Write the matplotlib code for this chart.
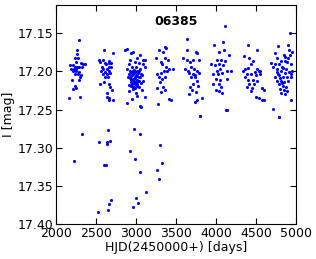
import matplotlib
matplotlib.use("Agg")
import matplotlib.pyplot as plt

# HJD - 2450000 and I magnitude, one list per season
hjd_s1 = [2287, 2267, 2258, 2242, 2275, 2250, 2308, 2342, 2175, 2208, 2233, 2283, 2325, 2358,
          2192, 2225, 2250, 2258, 2217, 2250, 2292, 2242, 2275, 2308, 2300, 2200, 2283, 2233,
          2250, 2217, 2300, 2167, 2329, 2225]
mag_s1 = [17.159, 17.172, 17.177, 17.182, 17.182, 17.188, 17.189, 17.191, 17.192, 17.192,
          17.194, 17.194, 17.194, 17.191, 17.197, 17.197, 17.197, 17.194, 17.199, 17.200,
          17.201, 17.204, 17.204, 17.205, 17.208, 17.211, 17.211, 17.219, 17.222, 17.223,
          17.233, 17.235, 17.282, 17.318]

hjd_s2 = [2600, 2717, 2542, 2583, 2667, 2550, 2608, 2667, 2683, 2625, 2575, 2658, 2683, 2592,
          2633, 2658, 2567, 2617, 2675, 2583, 2642, 2608, 2650, 2550, 2600, 2667, 2675, 2700,
          2642, 2633, 2658, 2708, 2658, 2542, 2650, 2633, 2633, 2675, 2600, 2621, 2687, 2667,
          2650, 2529]
mag_s2 = [17.172, 17.176, 17.185, 17.185, 17.186, 17.188, 17.189, 17.189, 17.189, 17.191,
          17.194, 17.194, 17.194, 17.197, 17.197, 17.199, 17.200, 17.201, 17.202, 17.204,
          17.204, 17.208, 17.207, 17.216, 17.214, 17.216, 17.220, 17.224, 17.229, 17.234,
          17.235, 17.237, 17.238, 17.292, 17.277, 17.293, 17.295, 17.291, 17.323, 17.323,
          17.369, 17.374, 17.381, 17.384]

hjd_s3 = [2863, 2883, 2942, 2958, 3050, 2925, 3008, 3092, 3117, 2908, 2983, 3033, 3092, 2892,
          2946, 3000, 3050, 3108, 2925, 2942, 2958, 2975, 2992, 3008, 3025, 3042, 3058, 2917,
          2933, 2950, 2967, 2983, 3000, 3017, 3033, 3050, 3075, 2925, 2942, 2958, 2975, 2992,
          3008, 3025, 3042, 2933, 2950, 2967, 2983, 3000, 3017, 3058, 2942, 2958, 2975, 2992,
          3008, 3033, 2917, 3083, 2900, 2917, 2967, 3075, 3008, 3117, 2892, 3050, 3067, 2950,
          3000, 2979, 3054, 2925, 2992, 3046, 3004, 3021, 2967, 3125]
mag_s3 = [17.172, 17.171, 17.176, 17.175, 17.179, 17.185, 17.182, 17.185, 17.185, 17.190,
          17.188, 17.189, 17.190, 17.197, 17.194, 17.194, 17.197, 17.194, 17.199, 17.201,
          17.200, 17.198, 17.201, 17.199, 17.202, 17.200, 17.203, 17.204, 17.206, 17.205,
          17.204, 17.207, 17.205, 17.206, 17.208, 17.207, 17.205, 17.209, 17.211, 17.210,
          17.212, 17.209, 17.211, 17.213, 17.212, 17.214, 17.216, 17.215, 17.217, 17.214,
          17.216, 17.215, 17.219, 17.221, 17.220, 17.222, 17.219, 17.221, 17.218, 17.212,
          17.208, 17.226, 17.223, 17.225, 17.232, 17.233, 17.242, 17.246, 17.247, 17.236,
          17.229, 17.275, 17.282, 17.304, 17.315, 17.332, 17.366, 17.372, 17.378, 17.358]

hjd_s4 = [3358, 3375, 3292, 3342, 3250, 3308, 3367, 3400, 3325, 3375, 3417, 3467, 3258, 3308,
          3350, 3383, 3283, 3325, 3367, 3300, 3342, 3358, 3267, 3308, 3408, 3433, 3275, 3296,
          3325, 3267, 3283]
mag_s4 = [17.168, 17.169, 17.172, 17.175, 17.182, 17.188, 17.183, 17.185, 17.190, 17.194,
          17.197, 17.197, 17.203, 17.202, 17.200, 17.199, 17.208, 17.210, 17.208, 17.214,
          17.220, 17.225, 17.222, 17.227, 17.236, 17.237, 17.243, 17.297, 17.320, 17.329,
          17.341]

hjd_s5 = [3633, 3642, 3750, 3767, 3592, 3642, 3717, 3675, 3783, 3617, 3650, 3692, 3725, 3758,
          3667, 3708, 3742, 3783, 3683, 3733, 3758, 3708, 3675, 3775, 3700, 3667, 3750, 3758,
          3733, 3821, 3800, 3800]
mag_s5 = [17.158, 17.172, 17.175, 17.176, 17.182, 17.185, 17.185, 17.188, 17.185, 17.197,
          17.199, 17.194, 17.197, 17.200, 17.202, 17.204, 17.205, 17.202, 17.208, 17.208,
          17.212, 17.216, 17.220, 17.219, 17.224, 17.230, 17.227, 17.237, 17.240, 17.235,
          17.259, 17.259]

hjd_s6 = [4117, 3975, 4083, 4100, 4042, 4167, 4017, 4067, 4117, 3942, 3992, 4033, 4083, 4050,
          4017, 4133, 4183, 3967, 4025, 4075, 4000, 4050, 4142, 4033, 3967, 4067, 4000, 4033,
          4075, 4133, 4129]
mag_s6 = [17.140, 17.166, 17.161, 17.172, 17.175, 17.179, 17.185, 17.185, 17.186, 17.191,
          17.192, 17.190, 17.192, 17.197, 17.199, 17.199, 17.200, 17.204, 17.203, 17.202,
          17.210, 17.211, 17.210, 17.216, 17.217, 17.220, 17.224, 17.226, 17.229, 17.251,
          17.251]

hjd_s7 = [4400, 4508, 4350, 4408, 4467, 4433, 4367, 4400, 4508, 4550, 4342, 4483, 4533, 4383,
          4442, 4500, 4550, 4367, 4400, 4458, 4517, 4417, 4475, 4383, 4450, 4575, 4600, 4442,
          4500, 4533, 4575, 4600]
mag_s7 = [17.165, 17.172, 17.180, 17.183, 17.186, 17.190, 17.197, 17.195, 17.197, 17.199,
          17.200, 17.201, 17.199, 17.204, 17.203, 17.205, 17.204, 17.208, 17.211, 17.211,
          17.212, 17.216, 17.216, 17.221, 17.222, 17.222, 17.224, 17.226, 17.234, 17.235,
          17.237, 17.237]

hjd_s8 = [4925, 4904, 4775, 4733, 4850, 4917, 4950, 4767, 4817, 4867, 4925, 4692, 4742, 4792,
          4892, 4942, 4717, 4767, 4825, 4875, 4758, 4808, 4858, 4917, 4950, 4733, 4783, 4833,
          4883, 4933, 4758, 4808, 4850, 4900, 4783, 4833, 4875, 4800, 4850, 4867, 4933, 4717,
          4792, 4788, 4800, 4842, 4825, 4883, 4775, 4858, 4900, 4942, 4817]
mag_s8 = [17.150, 17.166, 17.167, 17.176, 17.178, 17.172, 17.175, 17.183, 17.186, 17.181,
          17.179, 17.189, 17.190, 17.190, 17.188, 17.190, 17.194, 17.197, 17.194, 17.197,
          17.201, 17.200, 17.202, 17.201, 17.199, 17.207, 17.205, 17.208, 17.207, 17.208,
          17.212, 17.212, 17.214, 17.213, 17.217, 17.219, 17.220, 17.223, 17.224, 17.230,
          17.237, 17.249, 17.260, 17.260, 17.209, 17.195, 17.215, 17.226, 17.204, 17.186,
          17.182, 17.204, 17.228]

hjd = hjd_s1 + hjd_s2 + hjd_s3 + hjd_s4 + hjd_s5 + hjd_s6 + hjd_s7 + hjd_s8
mag = mag_s1 + mag_s2 + mag_s3 + mag_s4 + mag_s5 + mag_s6 + mag_s7 + mag_s8

star_id = "06385"
x_ticks = [2000, 2500, 3000, 3500, 4000, 4500, 5000]
y_ticks = [17.15, 17.20, 17.25, 17.30, 17.35, 17.40]

fig = plt.figure(figsize=(3.16, 2.59), dpi=100)
ax = fig.add_axes([0.177, 0.135, 0.76, 0.846])

ax.plot(hjd, mag, ".", color="blue", ms=4.5, mew=0)

ax.set_xlim(2000, 5000)
ax.set_ylim(17.40, 17.113)
ax.set_xticks(x_ticks)
ax.set_yticks(y_ticks)
ax.set_yticklabels(["%.2f" % v for v in y_ticks])
ax.tick_params(direction="in", top=True, right=True, labelsize=9, length=4, pad=2)
ax.set_xlabel("HJD(2450000+) [days]", fontsize=9, labelpad=1)
ax.set_ylabel("I [mag]", fontsize=9, labelpad=2)
ax.text(0.5, 0.925, star_id, transform=ax.transAxes, ha="center", va="center",
        fontsize=9, fontweight="bold")

fig.savefig("out.png", dpi=100)
